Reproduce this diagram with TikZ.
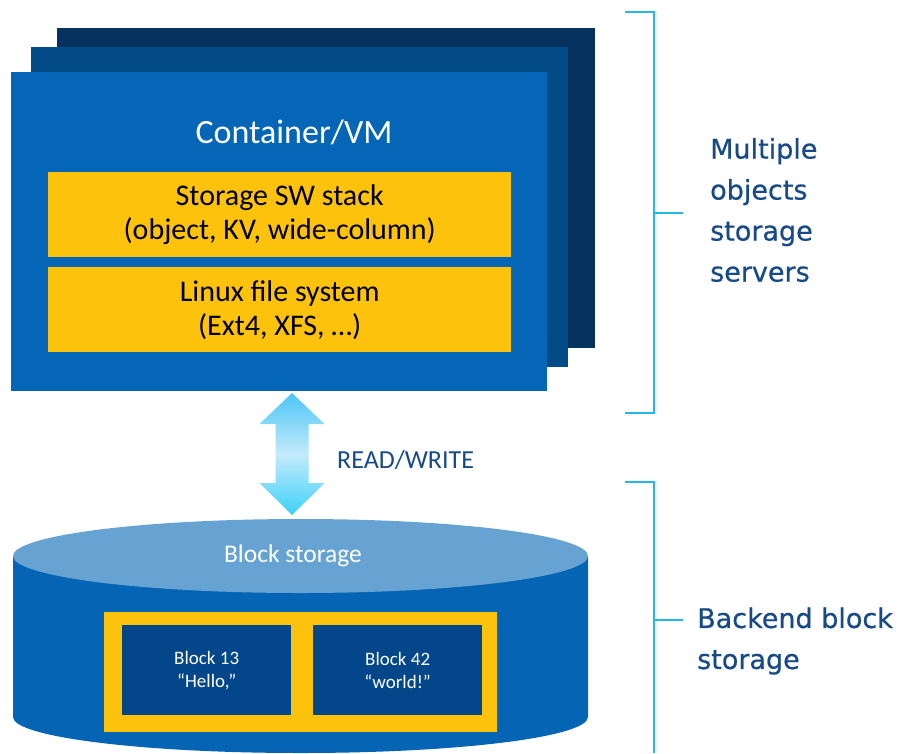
\documentclass[tikz,border=0pt]{standalone}
\usepackage{fontspec}
\setmainfont{Carlito}
\newfontfamily\labelfont[FakeBold=0.6]{DejaVu Sans}
\usetikzlibrary{positioning,shapes.geometric}

\definecolor{panelfront}{HTML}{0565B6}
\definecolor{panelmid}{HTML}{034B87}
\definecolor{panelback}{HTML}{06325F}
\definecolor{layergold}{HTML}{FDC30C}
\definecolor{cylbody}{HTML}{0564B4}
\definecolor{cyltop}{HTML}{67A3D2}
\definecolor{blockfill}{HTML}{03468A}
\definecolor{bracketblue}{HTML}{22B8EA}
\definecolor{labelblue}{HTML}{174A87}
\definecolor{arrowend}{HTML}{4CC6F6}
\definecolor{arrowmid}{HTML}{C4EAFB}

\tikzset{
  panel/.style={draw=none, inner sep=0pt, anchor=north west},
  layer/.style={fill=layergold, draw=none, inner sep=0pt, anchor=north west,
    minimum width=463pt, minimum height=85pt, align=center, text=black,
    font=\fontsize{30}{34}\selectfont},
  datablock/.style={fill=blockfill, draw=none, inner sep=0pt, anchor=north west,
    minimum width=169pt, minimum height=90pt, align=center, text=white,
    font=\fontsize{19}{23}\selectfont},
  bracket/.style={draw=bracketblue, line width=1.8pt},
  sidelabel/.style={anchor=west, align=left, text=labelblue, inner sep=0pt,
    font=\labelfont\fontsize{27}{41}\selectfont},
}

\begin{document}
\begin{tikzpicture}[x=1pt, y=-1pt]
  \useasboundingbox (0,0) rectangle (897,753);

  % stacked server panels
  \node[panel, fill=panelback, minimum width=538pt, minimum height=320pt] (srvback) at (57,28) {};
  \node[panel, fill=panelmid, minimum width=537pt, minimum height=320pt] (srvmid) at (31,47) {};
  \node[panel, fill=panelfront, minimum width=536pt, minimum height=319pt] (srvfront) at (11,72) {};

  \node[text=white, font=\fontsize{34}{40}\selectfont] (vmtitle) at (294,132) {Container/VM};
  \node[layer] (swstack) at (48,172) {Storage SW stack\\(object, KV, wide-column)};
  \node[layer] (linuxfs) at (48,267) {Linux file system\\(Ext4, XFS, \dots)};

  % read/write double arrow
  \coordinate (rwtop) at (292,393);
  \coordinate (rwbot) at (292,515);
  \shade[top color=arrowend, bottom color=arrowend!80!cyan, middle color=arrowmid]
    (rwtop) -- ++(32.5,31) -- ++(-16,0) -- ++(0,59) -- ++(16,0) -- (rwbot)
    -- ++(-32.5,-32) -- ++(16,0) -- ++(0,-59) -- ++(-16,0) -- cycle;
  \node[text=labelblue, anchor=west, inner sep=0pt, font=\fontsize{26}{30}\selectfont]
    (rwlabel) at (337,460) {READ/WRITE};

  % block storage cylinder
  \fill[cylbody] (13,557) -- (13,717) arc[start angle=180, end angle=0, x radius=287.5, y radius=36]
    -- (588,557) -- cycle;
  \node[ellipse, fill=cyltop, draw=none, minimum width=575pt, minimum height=74pt, inner sep=0pt]
    (cyltop) at (300.5,556) {};
  \node[text=white, font=\fontsize{25.5}{30}\selectfont] (cyllabel) at (293,556) {Block storage};

  \node[panel, fill=layergold, minimum width=393pt, minimum height=120pt] (blockframe) at (104,612) {};
  \node[datablock] (blk13) at (122,625) {Block 13\\“Hello,”};
  \node[datablock] (blk42) at (313,625) {Block 42\\“world!”};

  % brackets on the right
  \coordinate (b1top) at (625,12);
  \coordinate (b1bot) at (625,413);
  \coordinate (b1mid) at (683,213);
  \draw[bracket] (b1top) -- (654,12) -- (654,413) -- (b1bot);
  \draw[bracket] (654,213) -- (b1mid);
  \node[sidelabel] (srvlabel) at (710,210) {Multiple\\objects\\storage\\servers};

  \coordinate (b2top) at (625,482);
  \coordinate (b2mid) at (683,620);
  \draw[bracket] (b2top) -- (654,482) -- (654,753);
  \draw[bracket] (654,620) -- (b2mid);
  \node[sidelabel] (blklabel) at (697,641) {Backend block\\storage};
\end{tikzpicture}
\end{document}
